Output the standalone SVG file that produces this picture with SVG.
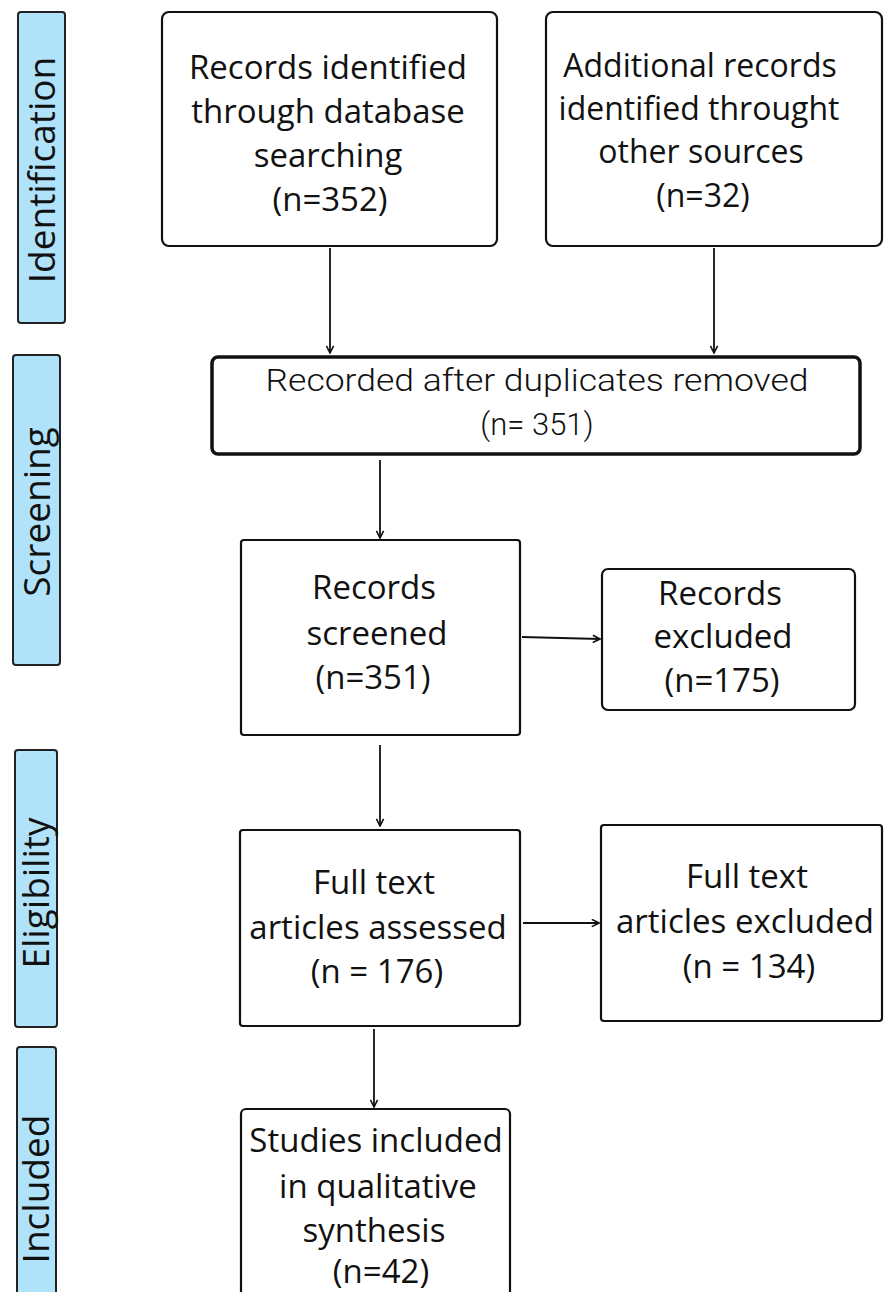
<svg xmlns="http://www.w3.org/2000/svg" width="885" height="1292" viewBox="0 0 885 1292">
<style>
.phase{fill:#b0e2fa;stroke:#222;stroke-width:2}
.box{fill:#fff;stroke:#111;stroke-width:2.2}
.thick{fill:#fff;stroke:#111;stroke-width:3.5}
.t{font-family:"Open Sans","Liberation Sans",sans-serif;font-size:33px;fill:#111;text-anchor:middle}
.s{font-size:32px}
.c{font-family:"Roboto","Liberation Sans",sans-serif;font-weight:300;font-size:31px;fill:#111;text-anchor:middle}
.p{font-family:"Open Sans","Liberation Sans",sans-serif;font-size:37px;fill:#111;text-anchor:middle}
.conn line{stroke:#111;stroke-width:1.8}
</style>
<defs>
<marker id="ah" viewBox="0 0 10 10" refX="9" refY="5" markerWidth="9" markerHeight="9" markerUnits="userSpaceOnUse" orient="auto">
<polyline points="1,1 9,5 1,9" fill="none" stroke="#111" stroke-width="1.8"/>
</marker>
</defs>
<g id="phase-identification"><rect class="phase" x="18" y="12" width="47" height="311" rx="3"/><text class="p" transform="translate(55,170) rotate(-90)">Identification</text></g>
<g id="phase-screening"><rect class="phase" x="13" y="355" width="47" height="310" rx="3"/><text class="p" transform="translate(50,512) rotate(-90)">Screening</text></g>
<g id="phase-eligibility"><rect class="phase" x="15" y="750" width="42" height="277" rx="3"/><text class="p" transform="translate(49,893) rotate(-90)">Eligibility</text></g>
<g id="phase-included"><rect class="phase" x="17" y="1047" width="39" height="250" rx="3"/><text class="p" transform="translate(49,1189) rotate(-90)">Included</text></g>

<g id="n1"><rect class="box" x="162" y="12" width="335" height="234" rx="7"/>
<text class="t" x="328" y="79">Records identified</text>
<text class="t" x="328" y="123">through database</text>
<text class="t" x="328" y="167">searching</text>
<text class="t" x="330" y="211">(n=352)</text></g>

<g id="n2"><rect class="box" x="546" y="12" width="336" height="234" rx="7"/>
<text class="t s" x="700" y="77">Additional records</text>
<text class="t s" x="699" y="120">identified throught</text>
<text class="t s" x="701" y="163">other sources</text>
<text class="t s" x="703" y="207">(n=32)</text></g>

<g id="n3"><rect class="thick" x="212" y="357" width="648" height="97" rx="6"/>
<text class="c" x="537" y="391" textLength="543" lengthAdjust="spacingAndGlyphs">Recorded after duplicates removed</text>
<text class="c" x="537" y="435">(n= 351)</text></g>

<g id="n4"><rect class="box" x="241" y="540" width="279" height="195" rx="3"/>
<text class="t" x="374" y="599">Records</text>
<text class="t" x="377" y="645">screened</text>
<text class="t" x="373" y="689">(n=351)</text></g>

<g id="n5"><rect class="box" x="602" y="569" width="253" height="141" rx="6"/>
<text class="t" x="720" y="605">Records</text>
<text class="t" x="723" y="648">excluded</text>
<text class="t" x="722" y="692">(n=175)</text></g>

<g id="n6"><rect class="box" x="240" y="830" width="280" height="196" rx="3"/>
<text class="t" x="374" y="894">Full text</text>
<text class="t" x="378" y="939">articles assessed</text>
<text class="t" x="377" y="983">(n = 176)</text></g>

<g id="n7"><rect class="box" x="601" y="825" width="281" height="196" rx="3"/>
<text class="t" x="747" y="888">Full text</text>
<text class="t" x="745" y="933">articles excluded</text>
<text class="t" x="749" y="978">(n = 134)</text></g>

<g id="n8"><rect class="box" x="241" y="1109" width="269" height="200" rx="5"/>
<text class="t" x="376" y="1152">Studies included</text>
<text class="t" x="378" y="1198">in qualitative</text>
<text class="t" x="374" y="1242">synthesis</text>
<text class="t" x="381" y="1283">(n=42)</text></g>

<g id="connectors" class="conn">
<line x1="330" y1="248" x2="330" y2="353" marker-end="url(#ah)"/>
<line x1="714" y1="248" x2="714" y2="353" marker-end="url(#ah)"/>
<line x1="380" y1="460" x2="380" y2="538" marker-end="url(#ah)"/>
<line x1="522" y1="637" x2="600" y2="639" marker-end="url(#ah)"/>
<line x1="380" y1="745" x2="380" y2="826" marker-end="url(#ah)"/>
<line x1="523" y1="923" x2="599" y2="923" marker-end="url(#ah)"/>
<line x1="374" y1="1029" x2="374" y2="1107" marker-end="url(#ah)"/>
</g>
</svg>
